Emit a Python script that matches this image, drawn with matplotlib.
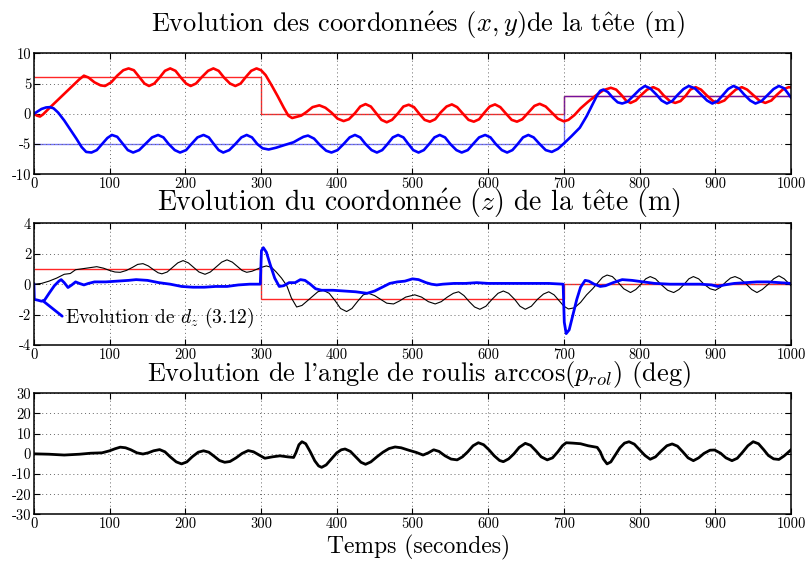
import numpy as np
import matplotlib
matplotlib.use("Agg")
import matplotlib.pyplot as plt

plt.rcParams['font.family'] = ['cmr10', 'DejaVu Serif']
plt.rcParams['mathtext.fontset'] = 'cm'
plt.rcParams['axes.unicode_minus'] = False
plt.rcParams['axes.formatter.use_mathtext'] = False

# consignes (paliers)
breaks = [0, 300, 700, 1000]
x_ref = [6, 0, 3]
y_ref = [-5, -5, 3]
z_ref = [1, -1, 0]

# x de la tete (t, valeur)
x_head = [(0, 0), (4, -0.3), (8, -0.45), (12, -0.1), (20, 0.9), (30, 2.1), (40, 3.3), (50, 4.5),
          (60, 5.7), (66, 6.3), (72, 6.0), (80, 5.2), (88, 4.7), (94, 4.6), (102, 5.2), (110, 6.3),
          (118, 7.2), (125, 7.5), (132, 7.2), (139, 6.1), (146, 5.0), (152, 4.6), (159, 5.0),
          (166, 6.0), (173, 7.1), (180, 7.5), (187, 7.1), (194, 6.0), (201, 5.0), (207, 4.6),
          (214, 5.0), (222, 6.1), (230, 7.1), (237, 7.5), (244, 7.1), (251, 6.0), (259, 5.0),
          (266, 4.6), (273, 5.0), (280, 6.1), (287, 7.1), (294, 7.5), (300, 7.2), (306, 6.4),
          (314, 4.7), (322, 2.9), (330, 1.0), (336, -0.3), (341, -0.7), (347, -0.5), (353, -0.3),
          (360, 0.3), (368, 1.1), (377, 1.4), (385, 1.0), (393, 0.2), (401, -0.8), (409, -1.2),
          (416, -0.9), (424, 0.1), (431, 1.2), (438, 1.6), (445, 1.2), (452, 0.1), (459, -1.0),
          (466, -1.4), (473, -1.0), (481, 0.1), (488, 1.2), (495, 1.5), (502, 1.1), (509, 0.0),
          (516, -1.0), (523, -1.3), (530, -0.9), (537, 0.2), (545, 1.2), (552, 1.55), (559, 1.1),
          (566, 0.1), (574, -1.0), (581, -1.3), (588, -0.9), (595, 0.2), (602, 1.2), (609, 1.55),
          (616, 1.1), (623, 0.1), (631, -1.0), (638, -1.3), (645, -0.9), (653, 0.2), (661, 1.3),
          (668, 1.65), (676, 1.2), (684, 0.2), (692, -0.8), (700, -1.25), (706, -1.0), (714, -0.2),
          (722, 0.9), (732, 2.0), (742, 3.0), (752, 3.9), (762, 4.3), (769, 4.0), (776, 3.1),
          (782, 2.2), (788, 1.8), (795, 2.2), (802, 3.1), (810, 4.0), (818, 4.4), (825, 4.0),
          (832, 3.0), (840, 2.1), (847, 1.8), (854, 2.1), (861, 3.0), (867, 4.0), (874, 4.4),
          (881, 4.0), (889, 3.0), (897, 2.1), (904, 1.8), (912, 2.2), (919, 3.1), (927, 4.0),
          (935, 4.4), (942, 4.0), (950, 3.1), (958, 2.2), (966, 1.8), (974, 2.2), (981, 3.1),
          (989, 4.0), (997, 4.4), (1000, 4.35)]

# y de la tete
y_head = [(0, 0), (5, 0.4), (10, 0.8), (16, 1.05), (21, 1.1), (26, 0.9), (32, 0.2), (40, -1.1),
          (48, -2.6), (56, -4.1), (63, -5.5), (69, -6.3), (76, -6.4), (83, -6.0), (90, -5.0),
          (97, -4.0), (103, -3.5), (110, -3.8), (117, -4.9), (124, -6.0), (131, -6.4), (139, -6.0),
          (147, -5.0), (156, -3.9), (164, -3.5), (171, -3.9), (178, -5.0), (186, -6.0), (193, -6.4),
          (201, -6.0), (208, -5.0), (216, -3.9), (224, -3.5), (231, -3.9), (237, -4.9), (244, -6.0),
          (250, -6.4), (258, -6.0), (266, -5.0), (274, -3.9), (281, -3.5), (288, -3.9), (295, -5.0),
          (302, -5.7), (310, -5.9), (320, -5.6), (330, -5.2), (343, -4.7), (350, -4.2), (356, -3.8),
          (362, -3.6), (370, -4.1), (378, -5.2), (386, -6.1), (393, -6.4), (401, -6.0), (409, -5.0),
          (417, -3.9), (424, -3.5), (431, -3.9), (438, -5.0), (446, -6.0), (453, -6.4), (460, -6.0),
          (467, -5.0), (474, -3.9), (481, -3.5), (488, -3.9), (494, -4.9), (501, -6.0), (508, -6.4),
          (515, -6.0), (522, -5.0), (529, -3.9), (536, -3.5), (543, -3.9), (550, -5.0), (558, -6.0),
          (565, -6.4), (573, -6.0), (580, -5.0), (588, -3.9), (596, -3.5), (603, -3.9), (610, -5.0),
          (618, -6.0), (625, -6.4), (632, -6.0), (639, -5.0), (646, -3.9), (653, -3.5), (660, -3.9),
          (668, -5.0), (676, -6.0), (684, -6.3), (692, -5.8), (700, -4.9), (710, -3.7), (721, -2.3),
          (730, -0.4), (738, 1.6), (744, 3.1), (748, 3.8), (752, 4.0), (758, 3.6), (765, 2.6),
          (771, 1.9), (777, 1.7), (784, 2.0), (792, 3.0), (800, 4.0), (807, 4.6), (814, 4.2),
          (822, 3.2), (829, 2.2), (836, 1.7), (843, 2.1), (850, 3.1), (858, 4.1), (865, 4.6),
          (873, 4.2), (881, 3.2), (889, 2.2), (896, 1.7), (903, 2.1), (910, 3.1), (917, 4.1),
          (924, 4.6), (931, 4.2), (938, 3.2), (946, 2.2), (953, 1.7), (961, 2.1), (969, 3.1),
          (977, 4.1), (984, 4.6), (991, 4.2), (1000, 2.7)]

# z de la tete
z_head = [(0, 0), (10, 0.05), (20, 0.2), (30, 0.4), (40, 0.65), (48, 0.7), (55, 0.95), (62, 1.0),
          (70, 1.05), (83, 1.15), (92, 1.05), (100, 0.9), (107, 0.8), (114, 0.78), (122, 0.9),
          (130, 1.1), (137, 1.3), (144, 1.35), (151, 1.2), (158, 0.95), (164, 0.75), (169, 0.68),
          (176, 0.8), (183, 1.1), (190, 1.4), (197, 1.55), (204, 1.4), (211, 1.1), (218, 0.8),
          (226, 0.65), (233, 0.8), (240, 1.1), (248, 1.45), (255, 1.6), (262, 1.45), (269, 1.15),
          (275, 0.9), (281, 0.78), (288, 0.85), (295, 1.0), (300, 1.1), (307, 1.2), (314, 1.1),
          (320, 0.8), (327, 0.4), (334, -0.1), (340, -0.9), (347, -1.5), (354, -1.4), (361, -1.1),
          (368, -0.8), (375, -0.5), (382, -0.4), (390, -0.6), (398, -1.1), (405, -1.6), (413, -1.8),
          (420, -1.6), (428, -1.1), (435, -0.7), (442, -0.6), (450, -0.75), (458, -1.0), (466, -1.25),
          (475, -1.3), (483, -1.1), (491, -0.85), (503, -0.7), (512, -0.85), (521, -1.15), (530, -1.3),
          (538, -1.15), (546, -0.85), (554, -0.6), (561, -0.5), (568, -0.75), (575, -1.15), (582, -1.5),
          (589, -1.65), (597, -1.45), (605, -1.0), (613, -0.6), (620, -0.45), (627, -0.6), (635, -1.0),
          (642, -1.45), (649, -1.65), (657, -1.45), (665, -1.0), (673, -0.65), (680, -0.5), (687, -0.7),
          (694, -1.1), (700, -1.45), (706, -1.63), (714, -1.55), (722, -1.2), (730, -0.7), (738, -0.3),
          (745, 0.1), (751, 0.45), (757, 0.6), (764, 0.5), (771, 0.15), (779, -0.3), (788, -0.55),
          (795, -0.35), (802, 0.0), (808, 0.35), (814, 0.5), (821, 0.35), (829, -0.05), (837, -0.4),
          (845, -0.55), (852, -0.35), (859, 0.0), (865, 0.35), (871, 0.5), (878, 0.35), (885, 0.0),
          (893, -0.3), (900, -0.4), (907, -0.2), (914, 0.15), (920, 0.4), (926, 0.5), (933, 0.35),
          (941, 0.0), (948, -0.35), (955, -0.55), (962, -0.35), (970, 0.0), (977, 0.35), (984, 0.55),
          (991, 0.35), (1000, -0.1)]

# d_z (3.12)
dz = [(0, 0), (0.5, -1.0), (5, -1.05), (10, -1.12), (14, -1.05), (20, -0.6), (27, -0.1), (33, 0.2),
      (36, 0.3), (40, 0.1), (45, -0.22), (50, -0.05), (55, 0.15), (60, 0.05), (66, -0.05), (72, 0.05),
      (80, 0.15), (95, 0.15), (110, 0.2), (125, 0.25), (135, 0.3), (150, 0.25), (165, 0.1), (180, 0.0),
      (195, -0.15), (210, -0.2), (225, -0.2), (240, -0.15), (255, -0.15), (270, -0.05), (285, 0.0),
      (299, 0.0), (300.5, 2.2), (303, 2.4), (307, 2.1), (312, 1.3), (318, 0.4), (324, -0.15),
      (330, -0.1), (337, 0.1), (345, 0.1), (352, 0.3), (358, 0.25), (365, 0.0), (372, -0.3),
      (380, -0.4), (395, -0.4), (410, -0.45), (425, -0.5), (440, -0.6), (450, -0.45), (460, -0.2),
      (470, 0.05), (480, 0.15), (490, 0.2), (500, 0.35), (508, 0.3), (518, 0.1), (525, 0.0),
      (532, -0.05), (540, 0.0), (555, 0.05), (570, 0.05), (585, 0.1), (600, 0.05), (620, 0.05),
      (640, 0.05), (660, 0.05), (680, 0.05), (699, 0.0), (700.5, -2.5), (703, -3.25), (707, -3.0),
      (712, -2.0), (717, -1.0), (722, -0.2), (728, 0.25), (733, 0.2), (740, 0.0), (748, -0.15),
      (755, -0.1), (765, 0.1), (777, 0.3), (790, 0.25), (805, 0.15), (820, 0.05), (840, 0.0),
      (860, 0.0), (880, 0.0), (895, -0.05), (903, -0.15), (912, -0.05), (925, 0.05), (940, 0.1),
      (955, 0.15), (970, 0.15), (985, 0.1), (1000, 0.05)]

# angle de roulis (deg)
roll = [(0, 0), (20, -0.2), (40, -0.6), (60, -0.2), (75, 0.3), (90, 0.5), (100, 1.5), (107, 2.5),
        (114, 3.3), (121, 3.0), (128, 2.0), (136, 0.5), (144, -0.1), (151, 0.5), (158, 1.5),
        (166, 2.1), (173, 1.0), (180, -1.5), (188, -4.0), (195, -5.0), (202, -4.0), (209, -1.5),
        (217, 0.8), (224, 1.5), (231, 0.8), (238, -1.2), (245, -3.3), (252, -4.2), (259, -3.8),
        (267, -2.0), (275, 0.2), (283, 1.6), (290, 1.0), (297, -0.5), (305, -2.2), (315, -1.5),
        (325, -1.0), (335, -1.5), (343, -1.8), (346, 0.5), (350, 4.5), (354, 6.0), (359, 5.0),
        (365, 1.0), (371, -3.5), (376, -6.0), (380, -6.7), (386, -5.5), (393, -2.5), (400, 0.5),
        (406, 2.0), (411, 2.4), (418, 1.2), (425, -1.5), (432, -4.2), (438, -5.2), (445, -4.0),
        (453, -1.5), (461, 0.8), (469, 2.6), (477, 3.4), (485, 3.0), (495, 1.8), (505, 0.7),
        (514, -0.6), (521, 0.5), (528, 2.0), (535, 1.2), (543, -1.0), (551, -2.6), (559, -3.0),
        (566, -1.5), (573, 1.0), (580, 4.0), (587, 5.5), (594, 4.5), (601, 2.0), (608, -1.0),
        (615, -3.3), (620, -3.9), (627, -2.5), (634, 0.0), (641, 3.2), (649, 5.2), (656, 4.2),
        (663, 1.5), (670, -1.5), (678, -3.0), (685, -2.0), (692, 1.0), (698, 4.0), (703, 5.5),
        (712, 5.3), (722, 5.0), (732, 4.0), (744, 3.2), (748, 1.0), (752, -2.5), (757, -5.0),
        (762, -4.0), (768, -0.5), (774, 3.0), (780, 5.3), (786, 6.0), (793, 4.8), (800, 2.0),
        (807, -0.8), (814, -2.7), (821, -1.5), (828, 1.2), (836, 4.0), (843, 4.9), (850, 3.8),
        (857, 1.0), (864, -2.0), (871, -3.4), (878, -2.0), (885, 0.2), (893, 1.8), (899, 1.9),
        (907, 0.3), (914, -2.0), (922, -3.4), (929, -2.2), (936, 0.8), (943, 4.0), (950, 6.0),
        (957, 5.0), (964, 2.0), (970, -0.8), (977, -2.5), (984, -2.8), (991, -1.0), (1000, 2.0)]

x_ticks = [0, 100, 200, 300, 400, 500, 600, 700, 800, 900, 1000]

e_acute = r'$\mathrm{\acute{e}}$'
e_circ = r'$\mathrm{\hat{e}}$'


def style(ax, yticks):
    ax.set_xlim(0, 1000)
    ax.set_ylim(yticks[0], yticks[-1])
    ax.set_xticks(x_ticks)
    ax.set_yticks(yticks)
    ax.grid(True, linestyle=(0, (1, 3)), color='0.4', linewidth=0.7)
    ax.tick_params(direction='in', top=True, right=True, length=4, width=0.8,
                   labelsize=10.5, pad=2)
    for s in ax.spines.values():
        s.set_linewidth(1.1)


fig = plt.figure(figsize=(8.08, 5.61), dpi=100)
ax1 = fig.add_axes([0.042, 0.6893, 0.937, 0.2157])
ax2 = fig.add_axes([0.042, 0.385, 0.937, 0.2169])
ax3 = fig.add_axes([0.042, 0.0832, 0.937, 0.2157])

# panneau x, y
ax1.stairs(x_ref, breaks, baseline=None, color='red', lw=1.0, alpha=0.85)
ax1.stairs(y_ref, breaks, baseline=None, color='blue', lw=1.0, alpha=0.55)
t, v = np.array(x_head).T
ax1.plot(t, v, color='red', lw=1.9)
t, v = np.array(y_head).T
ax1.plot(t, v, color='blue', lw=1.9)
style(ax1, [-10, -5, 0, 5, 10])

# panneau z
ax2.stairs(z_ref, breaks, baseline=None, color='red', lw=1.0, alpha=0.85)
t, v = np.array(z_head).T
ax2.plot(t, v, color='black', lw=0.8)
t, v = np.array(dz).T
ax2.plot(t, v, color='blue', lw=2.0)
ax2.annotate(r'Evolution de $d_z$ (3.12)', xy=(12, -1.1), xytext=(41, -2.25),
             fontsize=14, va='center', ha='left',
             arrowprops=dict(arrowstyle='-', color='blue', lw=2.0, shrinkA=0, shrinkB=0,
                             relpos=(0, 0.5)))
style(ax2, [-4, -2, 0, 2, 4])

# panneau roulis
t, v = np.array(roll).T
ax3.plot(t, v, color='black', lw=2.0)
style(ax3, [-30, -20, -10, 0, 10, 20, 30])

fig.text(0.518, 0.955, 'Evolution des coordonn' + e_acute + 'es $(x,y)$de la t' + e_circ + 'te (m)',
         ha='center', va='center', fontsize=19)
fig.text(0.518, 0.638, 'Evolution du coordonn' + e_acute + 'e $(z)$ de la t' + e_circ + 'te (m)',
         ha='center', va='center', fontsize=20)
fig.text(0.518, 0.332, "Evolution de l'angle de roulis arccos$(p_{rol})$ (deg)",
         ha='center', va='center', fontsize=19)
fig.text(0.518, 0.025, 'Temps (secondes)', ha='center', va='center', fontsize=17)

fig.savefig('out.png', dpi=100)
